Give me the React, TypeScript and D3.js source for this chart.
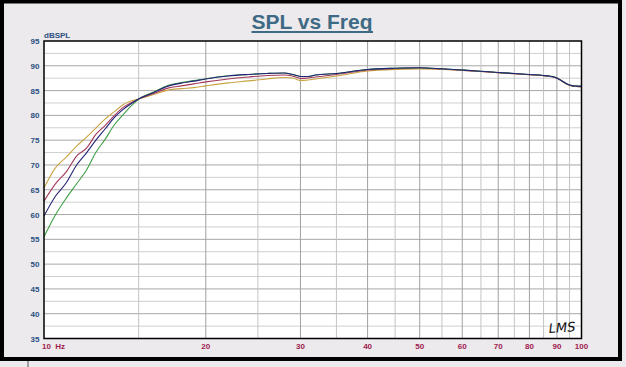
import React from "react";
import * as d3 from "d3";

const freqs = [10, 10.5, 11, 11.5, 12, 12.5, 13, 13.5, 14, 14.5, 15, 16, 17, 18, 19, 20, 22, 24, 26, 28, 29, 30, 31, 32, 35, 40, 45, 50, 55, 60, 65, 70, 75, 80, 85, 88, 90, 92, 94, 96, 98, 100];

const greenSeries = [55.5, 59.9, 63.3, 66.2, 69.0, 72.6, 75.2, 78.0, 80.0, 81.8, 83.3, 84.7, 86.0, 86.6, 87.0, 87.4, 88.0, 88.25, 88.45, 88.55, 88.25, 87.85, 87.85, 88.15, 88.45, 89.25, 89.5, 89.6, 89.4, 89.15, 88.9, 88.65, 88.45, 88.25, 88.05, 87.85, 87.55, 86.95, 86.35, 86.0, 85.9, 85.85];
const blueSeries = [59.7, 63.7, 66.4, 70.0, 72.45, 75.05, 77.3, 79.5, 81.1, 82.3, 83.3, 84.6, 85.9, 86.5, 86.9, 87.35, 87.95, 88.25, 88.45, 88.55, 88.25, 87.85, 87.85, 88.15, 88.45, 89.25, 89.5, 89.6, 89.4, 89.15, 88.9, 88.65, 88.45, 88.25, 88.05, 87.85, 87.55, 86.95, 86.35, 86.0, 85.9, 85.85];
const redSeries = [62.7, 66.2, 68.6, 71.8, 73.4, 76.2, 78.0, 79.9, 81.5, 82.5, 83.3, 84.4, 85.5, 85.95, 86.35, 86.75, 87.35, 87.75, 88.05, 88.15, 87.95, 87.45, 87.55, 87.75, 88.25, 89.15, 89.45, 89.55, 89.35, 89.1, 88.85, 88.6, 88.4, 88.2, 88.0, 87.8, 87.5, 86.9, 86.3, 85.95, 85.85, 85.8];
const orangeSeries = [65.35, 69.4, 71.6, 73.8, 75.6, 77.5, 79.3, 80.7, 82.1, 82.9, 83.3, 84.2, 85.1, 85.4, 85.6, 85.95, 86.55, 86.95, 87.35, 87.65, 87.55, 87.05, 87.15, 87.35, 87.95, 88.95, 89.25, 89.35, 89.25, 89.05, 88.85, 88.6, 88.4, 88.2, 88.0, 87.8, 87.5, 86.9, 86.3, 85.95, 85.85, 85.8];

const yTicks = [95, 90, 85, 80, 75, 70, 65, 60, 55, 50, 45, 40, 35];
const xTickValues = [10, 20, 30, 40, 50, 60, 70, 80, 90, 100];
const xTickLabels = ["10  Hz", "20", "30", "40", "50", "60", "70", "80", "90", "100"];
const xMinorGrid = [15, 25, 35, 45, 55, 65, 75, 85, 95];
const xMajorGrid = [20, 30, 40, 50, 60, 70, 80, 90];

const series = [
  { name: "orange", values: orangeSeries, color: "#c9a441" },
  { name: "red", values: redSeries, color: "#a33a5a" },
  { name: "green", values: greenSeries, color: "#3f9e45" },
  { name: "blue", values: blueSeries, color: "#232377" },
];

export default function App() {
  const W = 626, H = 367;
  const L = 44, R = 581.5, T = 41, B = 338.5;
  const x = d3.scaleLog().domain([10, 100]).range([L, R]);
  const y = d3.scaleLinear().domain([35, 95]).range([B, T]);
  const line = d3
    .line<[number, number]>()
    .x((d) => x(d[0]))
    .y((d) => y(d[1]))
    .curve(d3.curveMonotoneX);

  const hMinor: number[] = [];
  for (let v = 37.5; v < 95; v += 5) hMinor.push(v);
  const hMajor = yTicks.filter((v) => v !== 95 && v !== 35);

  return (
    <>
      <style>{`body{margin:0;}`}</style>
      <svg width={W} height={H} style={{ display: "block" }} fontFamily="'Liberation Sans', Arial, sans-serif">
        <rect x={0} y={0} width={W} height={H} fill="#eceaec" />
        <rect x={2} y={1.5} width={618} height={357.5} fill="#eceaec" stroke="#000" strokeWidth={4} />
        <line x1={28} x2={28} y1={361} y2={367} stroke="#555" strokeWidth={1} />

        <text x={312} y={29} textAnchor="middle" fontSize={21} fontWeight="bold" fill="#3e6a85">SPL vs Freq</text>
        <line x1={251.5} x2={373} y1={32} y2={32} stroke="#3e6a85" strokeWidth={2} />

        <rect x={L} y={T} width={R - L} height={B - T} fill="#ffffff" />
        {hMinor.map((v) => (
          <line key={"hm" + v} x1={L} x2={R} y1={y(v)} y2={y(v)} stroke="#cfcfcf" strokeWidth={1} />
        ))}
        {hMajor.map((v) => (
          <line key={"hM" + v} x1={L} x2={R} y1={y(v)} y2={y(v)} stroke="#a8a8a8" strokeWidth={1} />
        ))}
        {xMinorGrid.map((v) => (
          <line key={"vm" + v} x1={x(v)} x2={x(v)} y1={T} y2={B} stroke="#c4c4c4" strokeWidth={1} />
        ))}
        {xMajorGrid.map((v) => (
          <line key={"vM" + v} x1={x(v)} x2={x(v)} y1={T} y2={B} stroke="#a0a0a0" strokeWidth={1} />
        ))}

        {series.map((s) => (
          <path
            key={s.name}
            d={line(freqs.map((f, i) => [f, s.values[i]] as [number, number])) || ""}
            fill="none"
            stroke={s.color}
            strokeWidth={1.1}
          />
        ))}

        <rect x={L} y={T} width={R - L} height={B - T} fill="none" stroke="#000" strokeWidth={1.5} />

        <text x={L} y={37.5} fontSize={8} fontWeight="bold" fill="#2b4f82">dBSPL</text>
        {yTicks.map((v) => (
          <text key={"yt" + v} x={39.5} y={y(v) + 3} textAnchor="end" fontSize={8} fontWeight="bold" fill="#2b4f82">
            {v}
          </text>
        ))}
        {xTickValues.map((v, i) => (
          <text
            key={"xt" + v}
            x={i === 0 ? 42 : x(v)}
            y={349}
            textAnchor={i === 0 ? "start" : "middle"}
            fontSize={8}
            fontWeight="bold"
            fill="#a0204f"
            style={{ whiteSpace: "pre" }}
          >
            {xTickLabels[i]}
          </text>
        ))}

        <text x={562} y={332} textAnchor="middle" fontSize={13} fontStyle="italic" fontFamily="'DejaVu Sans', sans-serif" fill="#111" transform="rotate(-4 562 327)">LMS</text>
      </svg>
    </>
  );
}
